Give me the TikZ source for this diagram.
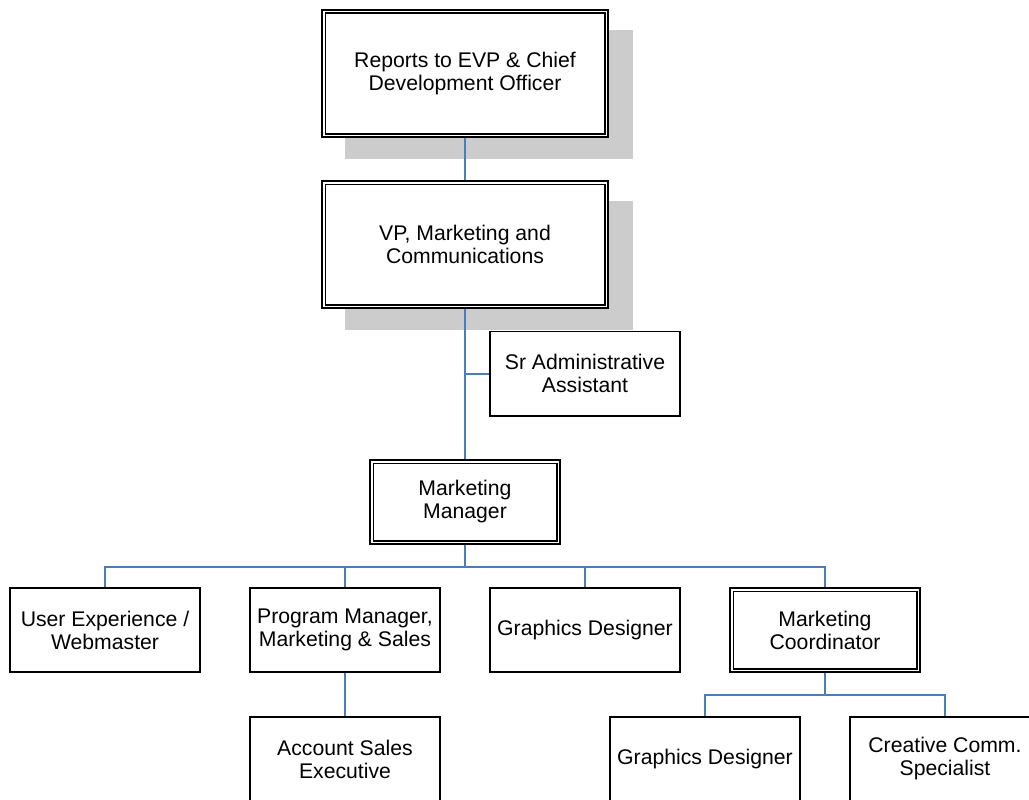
\documentclass[tikz,border=0pt]{standalone}
\usepackage{fontspec}
\setmainfont{Liberation Sans}
\pgfdeclarelayer{shadowlayer}
\pgfdeclarelayer{linklayer}
\pgfsetlayers{shadowlayer,linklayer,main}
\definecolor{linkblue}{HTML}{4A7EBB}
\definecolor{shadowgray}{HTML}{CCCCCC}
\begin{document}
\begin{tikzpicture}[x=1pt,y=-1pt,
  every node/.style={align=center, font=\fontsize{21.2}{23}\selectfont, fill=white, inner sep=0pt, outer sep=0pt},
  single/.style={draw, line width=1.8pt, minimum width=190.2pt, minimum height=84.2pt},
  doubleframe/.style={draw, double, line width=1.7pt, double distance=1.8pt},
  bigbox/.style={doubleframe, minimum width=282.8pt, minimum height=123.8pt},
  midbox/.style={doubleframe, minimum width=186.8pt, minimum height=80.8pt},
  link/.style={draw=linkblue, line width=2pt},
  shade/.style={fill=shadowgray}
]
\useasboundingbox (0,0) rectangle (1029,800);
\clip (0,0) rectangle (1029,800);

% executive level
\node[bigbox] (evp) at (465,73.5) {Reports to EVP \& Chief\\Development Officer};
\node[bigbox] (vp)  at (465,244.5) {VP, Marketing and\\Communications};
\node[single] (sr)  at (585,373.5) {Sr Administrative\\Assistant};
\node[midbox] (mm)  at (465,502) {Marketing\\Manager};

% staff reporting to the marketing manager
\node[single] (ux) at (105,630) {User Experience /\\Webmaster};
\node[single] (pm) at (345,630) {Program Manager,\\Marketing \& Sales};
\node[single] (gd) at (585,630) {Graphics Designer};
\node[midbox] (mc) at (825,630) {Marketing\\Coordinator};

% third level
\node[single] (ase)  at (345,759) {Account Sales\\Executive};
\node[single] (gd2)  at (705,759) {Graphics Designer};
\node[single] (ccs)  at (945,759) {Creative Comm.\\Specialist};

% bus points
\coordinate (bus1) at (465,567);
\coordinate (bus2) at (825,695);

\begin{pgfonlayer}{shadowlayer}
  \fill[shade] ([shift={(21.5,18.5)}]evp.north west) rectangle ([shift={(26.5,23.5)}]evp.south east);
  \fill[shade] ([shift={(21.5,18.5)}]vp.north west) rectangle ([shift={(26.5,23.5)}]vp.south east);
\end{pgfonlayer}

\begin{pgfonlayer}{linklayer}
  \draw[link] (evp.south) -- (vp.north);
  \draw[link] (vp.south) -- (mm.north);
  \draw[link] (vp.south |- sr.west) -- (sr.west);
  \draw[link] (mm.south) -- (bus1);
  \draw[link] (bus1) -| (ux.north);
  \draw[link] (bus1) -| (pm.north);
  \draw[link] (bus1) -| (gd.north);
  \draw[link] (bus1) -| (mc.north);
  \draw[link] (pm.south) -- (ase.north);
  \draw[link] (mc.south) -- (bus2);
  \draw[link] (bus2) -| (gd2.north);
  \draw[link] (bus2) -| (ccs.north);
\end{pgfonlayer}
\end{tikzpicture}
\end{document}
